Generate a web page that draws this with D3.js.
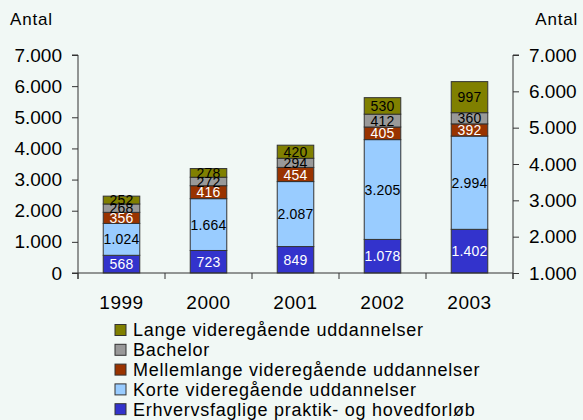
<!DOCTYPE html>
<html>
<head>
<meta charset="utf-8">
<script src="https://cdn.jsdelivr.net/npm/d3@7"></script>
<style>
  html, body { margin: 0; padding: 0; background: #f1f8f5; }
  text { font-family: "Liberation Sans", Arial, sans-serif; }
</style>
</head>
<body>
<div id="chart"></div>
<script>
// Data
const years = ["1999", "2000", "2001", "2002", "2003"];
const seriesNames = [
  "Erhvervsfaglige praktik- og hovedforløb",
  "Korte videregående uddannelser",
  "Mellemlange videregående uddannelser",
  "Bachelor",
  "Lange videregående uddannelser"
];
const erhvervsfaglige = [568, 723, 849, 1078, 1402];
const korte = [1024, 1664, 2087, 3205, 2994];
const mellemlange = [356, 416, 454, 405, 392];
const bachelor = [268, 272, 294, 412, 360];
const lange = [252, 278, 420, 530, 997];
const leftTicks = [0, 1000, 2000, 3000, 4000, 5000, 6000, 7000];
const rightTicks = [1000, 2000, 3000, 4000, 5000, 6000, 7000];

const colors = ["#3333cc", "#99ccff", "#993300", "#999999", "#808000"];
const labelColors = ["#ffffff", "#000000", "#ffffff", "#000000", "#000000"];

const width = 583, height = 420;
const svg = d3.select("#chart").append("svg")
    .attr("width", width)
    .attr("height", height);

svg.append("rect").attr("width", width).attr("height", height).attr("fill", "#f1f8f5");

// Danish number format: 1.024
const locale = d3.formatLocale({ decimal: ",", thousands: ".", grouping: [3], currency: ["", ""] });
const fmt = locale.format(",");

// Scales
const x = d3.scaleBand()
    .domain(years)
    .range([78, 513])
    .paddingInner(0.58)
    .paddingOuter(0.29);
const y = d3.scaleLinear().domain([0, 7000]).range([273, 55]);
const y2 = d3.scaleLinear().domain([1000, 7000]).range([273, 55]);

// Stack the series
const table = years.map((yr, i) => ({
  year: yr,
  s0: erhvervsfaglige[i], s1: korte[i], s2: mellemlange[i], s3: bachelor[i], s4: lange[i]
}));
const stacked = d3.stack().keys(["s0", "s1", "s2", "s3", "s4"])(table);

// Bars
const layers = svg.append("g").selectAll("g")
  .data(stacked)
  .join("g")
    .attr("fill", (d, i) => colors[i]);

layers.selectAll("rect")
  .data(d => d)
  .join("rect")
    .attr("x", d => x(d.data.year))
    .attr("y", d => y(d[1]))
    .attr("width", x.bandwidth())
    .attr("height", d => y(d[0]) - y(d[1]))
    .attr("stroke", "#333")
    .attr("stroke-width", 1);

// Segment labels
stacked.forEach((layer, i) => {
  svg.append("g").selectAll("text")
    .data(layer)
    .join("text")
      .attr("x", d => x(d.data.year) + x.bandwidth() / 2)
      .attr("y", d => (y(d[0]) + y(d[1])) / 2)
      .attr("dy", "0.36em")
      .attr("text-anchor", "middle")
      .attr("font-size", 14)
      .attr("letter-spacing", 0.2)
      .attr("fill", labelColors[i])
      .text(d => fmt(d[1] - d[0]));
});

// Left axis
const leftAxis = svg.append("g")
    .attr("transform", "translate(78,0)")
    .call(d3.axisLeft(y).tickValues(leftTicks).tickFormat(fmt).tickSize(6).tickPadding(10));
leftAxis.select(".domain").attr("stroke", "#333").attr("d", "M-6,55H0V279");
leftAxis.selectAll(".tick line").attr("stroke", "#333");
leftAxis.selectAll(".tick text").attr("font-size", 19).attr("fill", "#000");

// Right axis
const rightAxis = svg.append("g")
    .attr("transform", "translate(513,0)")
    .call(d3.axisRight(y2).tickValues(rightTicks).tickFormat(fmt).tickSize(6).tickPadding(10));
rightAxis.select(".domain").attr("stroke", "#333").attr("d", "M6,55H0V279");
rightAxis.selectAll(".tick line").attr("stroke", "#333");
rightAxis.selectAll(".tick text").attr("font-size", 19).attr("fill", "#000");

// Category axis
const bottom = svg.append("g").attr("transform", "translate(0,273)");
bottom.append("line")
    .attr("x1", 72).attr("x2", 513)
    .attr("stroke", "#333");
const step = x.step();
bottom.selectAll("line.cat")
  .data(d3.range(years.length + 1))
  .join("line")
    .attr("class", "cat")
    .attr("x1", i => 78 + i * step)
    .attr("x2", i => 78 + i * step)
    .attr("y1", 0).attr("y2", 6)
    .attr("stroke", "#333");
bottom.selectAll("text")
  .data(years)
  .join("text")
    .attr("x", d => x(d) + x.bandwidth() / 2)
    .attr("y", 36)
    .attr("text-anchor", "middle")
    .attr("font-size", 19)
    .attr("letter-spacing", 0.5)
    .text(d => d);

// Axis titles
svg.append("text").attr("x", 10).attr("y", 25).attr("font-size", 17).attr("letter-spacing", 0.8).text("Antal");
svg.append("text").attr("x", 578).attr("y", 25).attr("text-anchor", "end").attr("font-size", 17).attr("letter-spacing", 0.8).text("Antal");

// Legend (top to bottom: reversed series)
const legendItems = d3.range(seriesNames.length).reverse();
const legend = svg.append("g").selectAll("g")
  .data(legendItems)
  .join("g")
    .attr("transform", (d, i) => `translate(115,${330 + i * 19.8})`);
legend.append("rect")
    .attr("x", 0).attr("y", -5.5)
    .attr("width", 11).attr("height", 11)
    .attr("fill", d => colors[d])
    .attr("stroke", "#333");
legend.append("text")
    .attr("x", 18)
    .attr("dy", "0.35em")
    .attr("font-size", 18)
    .attr("letter-spacing", 0.75)
    .text(d => seriesNames[d]);
</script>
</body>
</html>
